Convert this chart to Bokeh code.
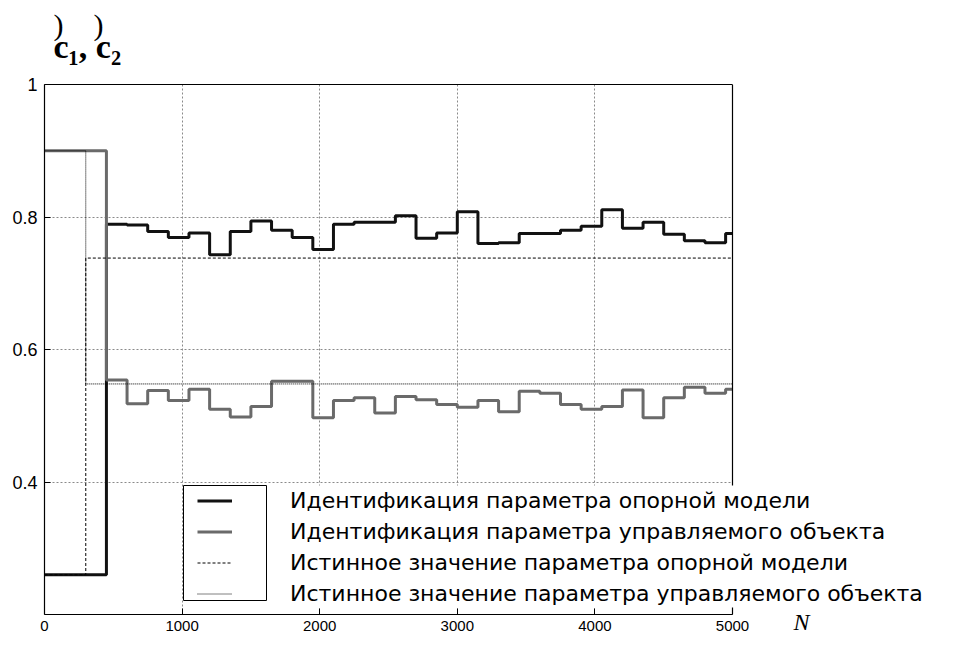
from bokeh.plotting import figure
from bokeh.models import (FixedTicker, LinearAxis, Range1d, Legend, LegendItem,
                          BoxAnnotation, Label, Span)
from bokeh.embed import file_html
from bokeh.resources import INLINE

# ---------------- data ----------------
step_n = [0, 450, 600, 750, 900, 1050, 1200, 1350, 1500, 1650, 1800, 1950, 2100,
          2250, 2400, 2550, 2700, 2850, 3000, 3150, 3300, 3450, 3600, 3750, 3900,
          4050, 4200, 4350, 4500, 4650, 4800, 4950]
n_end = 5000

ref_model_est = [0.26, 0.789, 0.788, 0.778, 0.769, 0.776, 0.743, 0.778, 0.794, 0.780,
                 0.769, 0.751, 0.789, 0.792, 0.792, 0.802, 0.768, 0.776, 0.808, 0.760,
                 0.761, 0.775, 0.775, 0.780, 0.786, 0.811, 0.783, 0.792, 0.774, 0.764,
                 0.761, 0.775]
object_est = [0.90, 0.554, 0.518, 0.538, 0.523, 0.540, 0.510, 0.498, 0.514, 0.552,
              0.552, 0.497, 0.523, 0.527, 0.504, 0.529, 0.524, 0.517, 0.513, 0.523,
              0.506, 0.537, 0.534, 0.517, 0.510, 0.514, 0.539, 0.497, 0.527, 0.543,
              0.534, 0.540]

true_n = [0, 300, 5000]
ref_model_true = [0.26, 0.738, 0.738]
object_true = [0.90, 0.548, 0.548]

x_ticks = [0, 1000, 2000, 3000, 4000, 5000]
y_ticks = [0.4, 0.6, 0.8, 1.0]
y_tick_labels = {0.4: "0.4", 0.6: "0.6", 0.8: "0.8", 1.0: "1"}

legend_labels = [
    "Идентификация параметра опорной модели",
    "Идентификация параметра управляемого объекта",
    "Истинное значение параметра опорной модели",
    "Истинное значение параметра управляемого объекта",
]

# ---------------- layout (pixels) ----------------
W, H = 956, 637
FL, FT, FB = 44, 84, 614          # frame left / top / bottom
AX_R = 732                        # where N = 5000 sits
BR = 20                           # right border
FR = W - BR                       # frame right
X0, X1, Y0, Y1 = 0.0, 5000.0, 0.2, 1.0
x_end = X0 + (FR - FL) / (AX_R - FL) * (X1 - X0)


def X(px):
    return X0 + (px - FL) / (AX_R - FL) * (X1 - X0)


def Y(py):
    return Y1 - (py - FT) / (FB - FT) * (Y1 - Y0)


p = figure(width=W, height=H, output_backend="svg", toolbar_location=None,
           x_range=Range1d(X0, x_end), y_range=Range1d(Y0, Y1),
           min_border_left=FL, min_border_right=BR, min_border_top=FT,
           min_border_bottom=H - FB)
p.outline_line_color = None
p.background_fill_color = "white"
p.border_fill_color = "white"

# bottom axis (limited to 0..5000)
xa = p.xaxis[0]
xa.ticker = FixedTicker(ticks=x_ticks)
xa.bounds = (X0, X1)
xa.major_label_text_font = "Liberation Sans"
xa.major_label_text_font_size = "15px"
xa.major_label_text_color = "black"
xa.major_label_standoff = 6

ya = p.yaxis[0]
ya.ticker = FixedTicker(ticks=y_ticks)
ya.major_label_text_font = "Liberation Sans"
ya.major_label_text_font_size = "18px"
ya.major_label_text_color = "black"
ya.major_label_standoff = 7
ya.major_label_overrides = y_tick_labels

top_ax = LinearAxis(ticker=FixedTicker(ticks=[]), bounds=(X0, X1))
p.add_layout(top_ax, "above")

for ax in [xa, ya, top_ax]:
    ax.major_tick_in = 6
    ax.major_tick_out = 0
    ax.minor_tick_in = 0
    ax.minor_tick_out = 0
    ax.axis_line_color = "black"
    ax.axis_line_width = 1.2
    ax.major_tick_line_color = "black"

# right border of the axes box at N = 5000
p.add_layout(Span(location=X1, dimension="height", line_color="black", line_width=1.2))

# grids
p.xgrid.ticker = FixedTicker(ticks=x_ticks)
p.ygrid.ticker = FixedTicker(ticks=y_ticks)
for g in [p.xgrid[0], p.ygrid[0]]:
    g.grid_line_color = "#8a8a8a"
    g.grid_line_dash = "2 2"
    g.grid_line_width = 1
p.xgrid[0].bounds = (X0, X1)
if "cross_bounds" in p.ygrid[0].properties():
    p.ygrid[0].cross_bounds = (X0, X1)
else:
    p.ygrid[0].visible = False
    p.segment(x0=[X0] * len(y_ticks), x1=[X1] * len(y_ticks), y0=y_ticks, y1=y_ticks,
              line_color="#8a8a8a", line_dash="2 2", line_width=1)

# series
r1 = p.step(step_n + [n_end], ref_model_est + [ref_model_est[-1]], mode="after",
            line_color="#111111", line_width=3)
r2 = p.step(step_n + [n_end], object_est + [object_est[-1]], mode="after",
            line_color="#6a6a6a", line_width=3)
r3 = p.step(true_n, ref_model_true, mode="after", line_color="black",
            line_width=1, line_dash="3 2")
r4 = p.step(true_n, object_true, mode="after", line_color="black",
            line_width=1, line_dash="1 1")

# legend: white backing, frame around the samples only, transparent legend on top
legend_bg = BoxAnnotation(left=X(183), right=X(FR), top=Y(485), bottom=Y(607),
                          fill_color="white", fill_alpha=1.0, line_alpha=0)
p.add_layout(legend_bg)
legend_box = BoxAnnotation(left=X(183), right=X(266), top=Y(485), bottom=Y(600),
                           fill_alpha=0, line_color="black", line_alpha=1, line_width=1)
p.add_layout(legend_box)

legend = Legend(items=[LegendItem(label=t, renderers=[r]) for t, r in
                       zip(legend_labels, [r1, r2, r3, r4])],
                location=(197 - 2 - FL, 5), glyph_width=35, glyph_height=27,
                label_height=27, label_standoff=58, spacing=4, padding=2, margin=0,
                label_text_font="DejaVu Sans", label_text_font_size="22px",
                label_text_color="black",
                border_line_alpha=0, background_fill_alpha=0.0)
p.add_layout(legend, "center")

# axis titles (placed in the side panels so they are not clipped by the frame)
p.add_layout(Label(x=X(53), y=Y(24), text=")\u00a0\u00a0\u00a0\u00a0)",
                   text_font="Liberation Serif", text_font_size="30px",
                   text_baseline="middle", text_align="left", text_color="black"),
             "above")
p.add_layout(Label(x=X(53), y=Y(46), text="c\u2081, c\u2082",
                   text_font="Liberation Serif", text_font_style="bold",
                   text_font_size="34px", text_baseline="middle",
                   text_align="left", text_color="black"), "above")
p.add_layout(Label(x=X(793), y=Y(621), text="N", text_font="Liberation Serif",
                   text_font_style="italic", text_font_size="24px",
                   text_baseline="middle", text_align="left", text_color="black"),
             "right")

open("out.html", "w").write(file_html(p, INLINE))
